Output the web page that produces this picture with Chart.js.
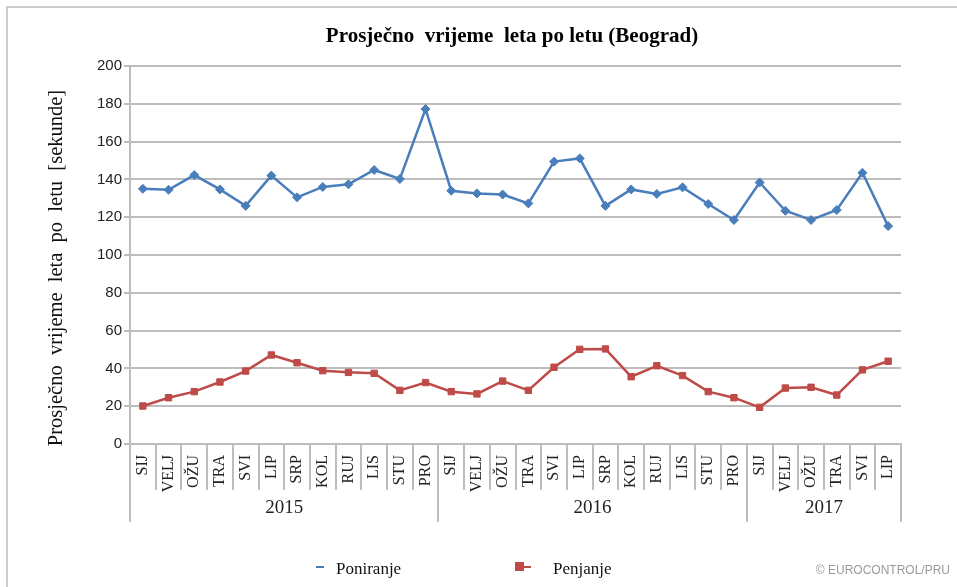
<!DOCTYPE html>
<html lang="hr">
<head>
<meta charset="UTF-8">
<title>Prosječno vrijeme leta po letu (Beograd)</title>
<style>
  body { margin: 0; background: #fff; }
  #wrap { width: 957px; height: 587px; }
</style>
</head>
<body>
<div id="wrap"><canvas id="chart" width="957" height="587"></canvas></div>

<script src="https://cdn.jsdelivr.net/npm/chart.js"></script>
<script>
// mjeseci po godinama (2015, 2016, pola 2017)
const months = ['SIJ','VELJ','OŽU','TRA','SVI','LIP','SRP','KOL','RUJ','LIS','STU','PRO',
                'SIJ','VELJ','OŽU','TRA','SVI','LIP','SRP','KOL','RUJ','LIS','STU','PRO',
                'SIJ','VELJ','OŽU','TRA','SVI','LIP'];
const years = ['2015', '2016', '2017'];
const yearSizes = [12, 12, 6];

// sekunde
const poniranje = [135, 134.5, 142.3, 134.7, 126, 142, 130.5, 136, 137.4, 145, 140.2, 177.2,
                   134, 132.6, 132, 127.3, 149.4, 151.1, 126, 134.7, 132.3, 135.8, 127, 118.5,
                   138.4, 123.4, 118.5, 123.8, 143.5, 115.3];
const penjanje = [20.1, 24.5, 27.7, 32.8, 38.6, 47.1, 43, 38.8, 37.9, 37.4, 28.4, 32.5,
                  27.7, 26.5, 33.3, 28.4, 40.6, 50.1, 50.3, 35.6, 41.4, 36.2, 27.7, 24.5,
                  19.4, 29.6, 30, 25.9, 39.2, 43.8];

const yTicks = [0, 20, 40, 60, 80, 100, 120, 140, 160, 180, 200];

const serif = '"Liberation Serif", "Times New Roman", serif';
const sans = '"Liberation Sans", Arial, sans-serif';
const gridGray = '#bdbdbd';

// okvir, naslovi, podjela osi x po mjesecima i godinama, legenda
const decor = {
  id: 'decor',
  beforeDraw(chart) {
    const ctx = chart.ctx;
    ctx.save();
    ctx.strokeStyle = '#cccccc';
    ctx.lineWidth = 2;
    ctx.beginPath();
    ctx.moveTo(7, 587); ctx.lineTo(7, 7); ctx.lineTo(957, 7);
    ctx.stroke();
    ctx.restore();
  },
  afterDraw(chart) {
    const ctx = chart.ctx;
    const x = chart.scales.x;
    const area = chart.chartArea;
    ctx.save();

    // naslov
    ctx.fillStyle = '#000';
    ctx.font = 'bold 21px ' + serif;
    ctx.textAlign = 'center';
    ctx.textBaseline = 'middle';
    ctx.fillText('Prosječno  vrijeme  leta po letu (Beograd)', 512, 37);

    // naslov osi y
    ctx.save();
    ctx.translate(57, 268);
    ctx.rotate(-Math.PI / 2);
    ctx.fillStyle = '#111';
    ctx.font = '20.5px ' + serif;
    ctx.fillText('Prosječno  vrijeme  leta  po  letu  [sekunde]', 0, 0);
    ctx.restore();

    // granice mjeseci i godina
    const edge = i => {
      if (i === 0) return area.left;
      if (i === months.length) return area.right;
      return (x.getPixelForValue(i - 1) + x.getPixelForValue(i)) / 2;
    };
    const yearStarts = [0];
    yearSizes.forEach((n, k) => yearStarts.push(yearStarts[k] + n));
    ctx.strokeStyle = gridGray;
    ctx.lineWidth = 2;
    for (let i = 0; i <= months.length; i++) {
      const px = Math.round(edge(i));
      const long = yearStarts.includes(i);
      ctx.beginPath();
      ctx.moveTo(px, area.bottom);
      ctx.lineTo(px, area.bottom + (long ? 78 : 46));
      ctx.stroke();
    }
    ctx.fillStyle = '#222';
    ctx.font = '19px ' + serif;
    years.forEach((yr, k) => {
      const cx = (edge(yearStarts[k]) + edge(yearStarts[k + 1])) / 2;
      ctx.fillText(yr, cx, 508);
    });

    // legenda
    ctx.font = '17px ' + serif;
    ctx.textAlign = 'left';
    const ds = chart.data.datasets;
    const ly = 570;
    // Poniranje
    ctx.strokeStyle = ds[0].borderColor;
    ctx.lineWidth = 2;
    ctx.beginPath(); ctx.moveTo(316, ly - 3); ctx.lineTo(324, ly - 3); ctx.stroke();
    ctx.fillStyle = '#111';
    ctx.fillText(ds[0].label, 336, ly);
    // Penjanje
    ctx.strokeStyle = ds[1].borderColor;
    ctx.beginPath(); ctx.moveTo(520, ly - 3); ctx.lineTo(531, ly - 3); ctx.stroke();
    ctx.fillStyle = ds[1].backgroundColor;
    ctx.fillRect(515, ly - 8, 9, 9);
    ctx.fillStyle = '#111';
    ctx.fillText(ds[1].label, 553, ly);

    // izvor
    ctx.fillStyle = '#9a9a9a';
    ctx.font = '12px ' + sans;
    ctx.textAlign = 'right';
    ctx.fillText('© EUROCONTROL/PRU', 950, 571);
    ctx.restore();
  }
};

new Chart(document.getElementById('chart').getContext('2d'), {
  type: 'line',
  data: {
    labels: months,
    datasets: [
      {
        label: 'Poniranje',
        data: poniranje,
        borderColor: '#4a7ebb',
        backgroundColor: '#4a7ebb',
        borderWidth: 2.5,
        pointStyle: 'rectRot',
        pointRadius: 4.5,
        pointBorderWidth: 1,
        tension: 0
      },
      {
        label: 'Penjanje',
        data: penjanje,
        borderColor: '#be4b48',
        backgroundColor: '#be4b48',
        borderWidth: 2.5,
        pointStyle: 'rect',
        pointRadius: 4.5,
        pointBorderWidth: 1,
        tension: 0
      }
    ]
  },
  options: {
    responsive: false,
    animation: false,
    layout: { padding: { top: 66, right: 56, bottom: 43, left: 0 } },
    plugins: {
      legend: { display: false },
      title: { display: false },
      tooltip: { enabled: false }
    },
    scales: {
      x: {
        type: 'category',
        offset: true,
        afterFit: s => { s.height = 100; },
        grid: { display: false, offset: true },
        border: { display: true, color: gridGray, width: 2 },
        ticks: {
          autoSkip: false,
          maxRotation: 90,
          minRotation: 90,
          padding: 3,
          color: '#222',
          font: { family: serif, size: 16 }
        }
      },
      y: {
        min: 0,
        max: 200,
        afterFit: s => { s.width = 130; },
        afterBuildTicks: s => { s.ticks = yTicks.map(v => ({ value: v })); },
        grid: { color: gridGray, lineWidth: 2, tickLength: 6 },
        border: { display: true, color: gridGray, width: 2 },
        ticks: {
          padding: 2,
          color: '#222',
          font: { family: sans, size: 15 }
        }
      }
    }
  },
  plugins: [decor]
});
</script>
</body>
</html>
